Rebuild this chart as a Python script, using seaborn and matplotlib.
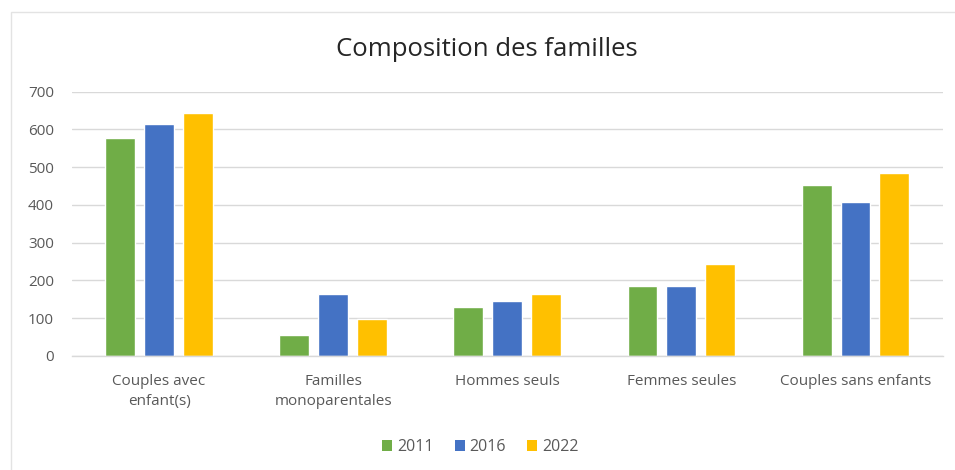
import matplotlib
matplotlib.use("Agg")
import matplotlib.pyplot as plt
from matplotlib.patches import Rectangle, Patch
import seaborn as sns
import pandas as pd

categories = ["Couples avec\nenfant(s)", "Familles\nmonoparentales", "Hommes seuls",
              "Femmes seules", "Couples sans enfants"]
years = ["2011", "2016", "2022"]
values_2011 = [576, 56, 129, 186, 453]
values_2016 = [614, 164, 146, 184, 409]
values_2022 = [644, 97, 164, 243, 485]
colors = ["#70AD47", "#4472C4", "#FFC000"]
yticks = [0, 100, 200, 300, 400, 500, 600, 700]

df = pd.DataFrame({
    "categorie": categories * 3,
    "annee": [y for y in years for _ in categories],
    "valeur": values_2011 + values_2016 + values_2022,
})

sns.set_theme(style="white")
plt.rcParams["font.family"] = ["Open Sans", "DejaVu Sans"]

fig = plt.figure(figsize=(9.55, 4.7), dpi=100)
ax = fig.add_axes([0.0754, 0.2426, 0.9116, 0.5624])

sns.barplot(data=df, x="categorie", y="valeur", hue="annee", order=categories,
            hue_order=years, palette=colors, width=0.67, gap=0.23,
            saturation=1, ax=ax, legend=False)

ax.set_ylim(0, 700)
ax.set_xlim(-0.5, len(categories) - 0.5)
ax.set_yticks(yticks)
ax.set_yticklabels([str(t) for t in yticks])
ax.grid(axis="y", color="#D9D9D9", linewidth=1)
ax.set_axisbelow(True)
for side in ["top", "right", "left"]:
    ax.spines[side].set_visible(False)
ax.spines["bottom"].set_color("#D9D9D9")
ax.spines["bottom"].set_linewidth(1)
ax.tick_params(axis="both", length=0, colors="#595959", labelsize=11)
ax.tick_params(axis="y", pad=13)
ax.tick_params(axis="x", pad=13)
for lbl in ax.get_xticklabels():
    lbl.set_linespacing(1.45)
ax.set_xlabel("")
ax.set_ylabel("")

fig.text(0.51, 0.894, "Composition des familles", ha="center", va="center",
         fontsize=18.5, color="#262626")

handles = [Patch(facecolor=c, edgecolor="none") for c in colors]
fig.legend(handles, years, loc="center", bbox_to_anchor=(0.503, 0.048), ncol=3,
           frameon=False, fontsize=11.5, handlelength=0.65, handleheight=0.65,
           handletextpad=0.3, columnspacing=1.3, labelcolor="#595959")

fig.patches.append(Rectangle((0.011, -0.1), 1.2, 1.0745, transform=fig.transFigure,
                             fill=False, edgecolor="#E3E3E3", linewidth=1))

fig.savefig("out.png", dpi=100, facecolor="white")
